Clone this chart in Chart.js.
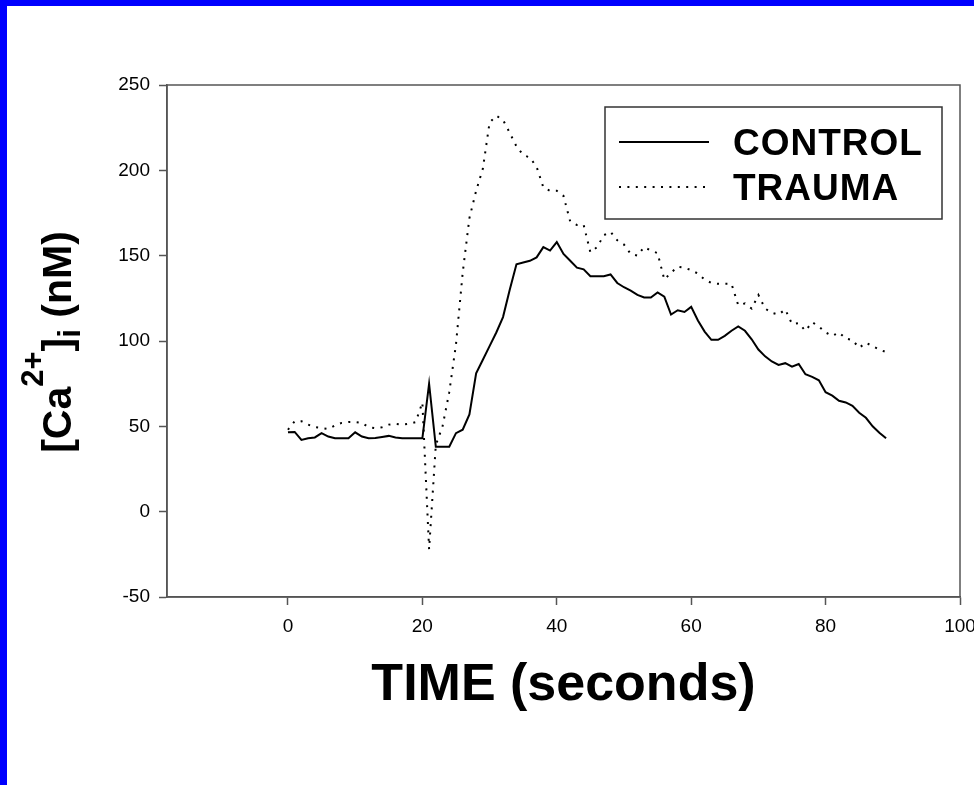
<!DOCTYPE html>
<html>
<head>
<meta charset="utf-8">
<script src="https://cdn.jsdelivr.net/npm/chart.js@4/dist/chart.umd.min.js"></script>
<style>
  html, body { margin: 0; padding: 0; background: #fff; }
  #wrap { position: relative; width: 974px; height: 785px; }
  #frame {
    position: absolute; left: 0; top: 0; width: 974px; height: 785px;
    box-sizing: border-box; border-top: 6px solid #0000ff; border-left: 7px solid #0000ff;
    pointer-events: none;
  }
</style>
</head>
<body>
<div id="wrap">
  <canvas id="calcium-chart" width="974" height="785"></canvas>
  <div id="frame"></div>
</div>
<script>
// Time points (seconds)
const timeSec = [
  0, 1, 2, 3, 4, 5, 6, 7, 8, 9,
  10, 11, 12, 13, 14, 15, 16, 17, 18, 19,
  20, 21, 22, 23, 24, 25, 26, 27, 28, 29,
  30, 31, 32, 33, 34, 35, 36, 37, 38, 39,
  40, 41, 42, 43, 44, 45, 46, 47, 48, 49,
  50, 51, 52, 53, 54, 55, 56, 57, 58, 59,
  60, 61, 62, 63, 64, 65, 66, 67, 68, 69,
  70, 71, 72, 73, 74, 75, 76, 77, 78, 79,
  80, 81, 82, 83, 84, 85, 86, 87, 88, 89
];

// [Ca2+]i in nM
const controlData = [
  46.5, 46.7, 42, 43, 43.5, 46, 44, 43, 43, 43,
  46.5, 44, 43, 43.2, 43.8, 44.4, 43.5, 43, 43, 43,
  43, 75, 38, 38, 38, 46, 48, 57, 81, 89,
  97, 105, 114, 130, 145, 146, 147, 149, 155, 153,
  158, 151, 147, 143, 142, 138, 138, 138, 139, 134,
  131.5, 129.5, 127, 125.5, 125.5, 128.5, 126, 115.5, 118, 117,
  120, 112, 105.5, 100.7, 100.7, 103, 106, 108.5, 106, 101,
  95, 91, 88, 86, 87, 85, 86.5, 80.5, 79, 77,
  70, 68, 65, 64, 62, 58, 55, 50, 46.3, 43
];
const traumaData = [
  48, 53, 53, 51, 49.5, 49, 48.5, 50.5, 52, 52.5,
  52.5, 52, 49.5, 49, 49.5, 51, 51.5, 51, 51.5, 52.5,
  64, -22, 39, 50, 70, 98, 140, 172, 188, 201,
  228, 232, 229.5, 222, 214, 209, 207.5, 202, 190, 188,
  188, 185, 170, 168, 168, 152, 155, 162, 164, 159,
  156.5, 151, 150, 155, 153, 151.5, 136, 140, 143.5, 143,
  141.5, 139.5, 136, 134, 133.5, 133.5, 133.5, 121, 122, 119,
  127, 119, 116.5, 115.5, 118.5, 110, 110.5, 106, 111, 108.5,
  105, 103, 105, 101.5, 100.5, 96, 99, 97, 95, 93.5
];

// Axis ticks
const xTicks = [0, 20, 40, 60, 80, 100];
const yTicks = [-50, 0, 50, 100, 150, 200, 250];

const seriesNames = ["CONTROL", "TRAUMA"];
const xTitle = "TIME (seconds)";

const fontFamily = '"Liberation Sans", Arial, Helvetica, sans-serif';
const axisColor = "#555";
const dotDash = [2, 6.4];

// Titles, legend box and the frame round the plot
const decorPlugin = {
  id: "decor",
  afterDraw(chart) {
    const ctx = chart.ctx;
    const a = chart.chartArea;
    ctx.save();

    ctx.strokeStyle = axisColor;
    ctx.lineWidth = 1.5;
    ctx.strokeRect(a.left, a.top, a.right - a.left, a.bottom - a.top);

    // x axis title
    ctx.fillStyle = "#000";
    ctx.textAlign = "center";
    ctx.textBaseline = "alphabetic";
    ctx.font = "bold 52px " + fontFamily;
    ctx.fillText(xTitle, (a.left + a.right) / 2, 700);

    // y axis title with super/subscript
    const parts = [
      { t: "[Ca", size: 41, dy: 0 },
      { t: "2+", size: 31, dy: -28 },
      { t: "]", size: 41, dy: 0 },
      { t: "i", size: 31, dy: 9 },
      { t: " (nM)", size: 41, dy: 0 }
    ];
    let total = 0;
    parts.forEach(p => {
      ctx.font = "bold " + p.size + "px " + fontFamily;
      p.w = ctx.measureText(p.t).width;
      total += p.w;
    });
    ctx.save();
    ctx.translate(71, (a.top + a.bottom) / 2 + 1);
    ctx.rotate(-Math.PI / 2);
    ctx.textAlign = "left";
    let x = -total / 2;
    parts.forEach(p => {
      ctx.font = "bold " + p.size + "px " + fontFamily;
      ctx.fillText(p.t, x, p.dy);
      x += p.w;
    });
    ctx.restore();

    // legend
    ctx.strokeStyle = "#333";
    ctx.lineWidth = 1.5;
    ctx.strokeRect(605, 107, 337, 112);
    ctx.strokeStyle = "#000";
    ctx.lineWidth = 2;
    ctx.beginPath();
    ctx.moveTo(619, 142);
    ctx.lineTo(709, 142);
    ctx.stroke();
    ctx.setLineDash(dotDash);
    ctx.beginPath();
    ctx.moveTo(619, 187);
    ctx.lineTo(709, 187);
    ctx.stroke();
    ctx.setLineDash([]);
    ctx.font = "bold 37px " + fontFamily;
    ctx.letterSpacing = "1px";
    ctx.textAlign = "left";
    ctx.fillText(seriesNames[0], 733, 155);
    ctx.fillText(seriesNames[1], 733, 200);

    ctx.restore();
  }
};

const toPoints = (vals) => vals.map((v, i) => ({ x: timeSec[i], y: v }));

const calciumChart = new Chart(document.getElementById("calcium-chart"), {
  type: "line",
  data: {
    datasets: [
      {
        label: seriesNames[0],
        data: toPoints(controlData),
        borderColor: "#000",
        borderWidth: 2,
        pointRadius: 0,
        tension: 0
      },
      {
        label: seriesNames[1],
        data: toPoints(traumaData),
        borderColor: "#000",
        borderWidth: 2,
        borderDash: dotDash,
        pointRadius: 0,
        tension: 0
      }
    ]
  },
  options: {
    responsive: false,
    animation: false,
    layout: { padding: { left: 0, top: 85, right: 14, bottom: 0 } },
    plugins: {
      legend: { display: false },
      tooltip: { enabled: false }
    },
    scales: {
      x: {
        type: "linear",
        min: -18,
        max: 100,
        afterBuildTicks: (axis) => { axis.ticks = xTicks.map(v => ({ value: v })); },
        afterFit: (scale) => { scale.height = 188; scale.paddingLeft = 0; scale.paddingRight = 0; },
        grid: { drawOnChartArea: false, tickLength: 8, tickColor: axisColor, tickWidth: 1.5 },
        border: { color: axisColor, width: 1.5 },
        ticks: { color: "#000", padding: 10, maxRotation: 0, font: { family: fontFamily, size: 19 } }
      },
      y: {
        min: -50,
        max: 250,
        afterBuildTicks: (axis) => { axis.ticks = yTicks.map(v => ({ value: v })); },
        afterFit: (scale) => { scale.width = 167; scale.paddingTop = 0; scale.paddingBottom = 0; },
        grid: { drawOnChartArea: false, tickLength: 8, tickColor: axisColor, tickWidth: 1.5 },
        border: { color: axisColor, width: 1.5 },
        ticks: { color: "#000", padding: 9, font: { family: fontFamily, size: 19 } }
      }
    }
  },
  plugins: [decorPlugin]
});
</script>
</body>
</html>
